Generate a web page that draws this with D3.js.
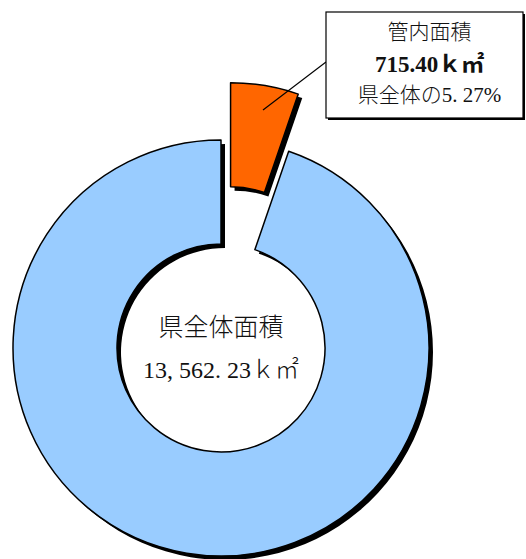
<!DOCTYPE html>
<html>
<head>
<meta charset="utf-8">
<script src="https://d3js.org/d3.v7.min.js"></script>
<style>
  body { margin: 0; background: #fff; }
  svg { display: block; }
  text { font-family: "Liberation Serif", "Noto Sans CJK JP", serif; fill: #111; font-weight: 300; }
</style>
</head>
<body>
<div id="chart"></div>
<script>
// データ（km²）
var categories = ["管内", "管内以外"];
var areas = [715.40, 12846.83];
var totalArea = 13562.23;
var colors = ["#ff6600", "#99ccff"];

var width = 526, height = 559;
var cx = 221, cy = 348;          // 円の中心
var rOuter = 208, rInner = 104;  // ドーナツの半径
var explode = 58;                // 管内スライスの切り出し量
var shadow = 4;                  // 影のずれ

var svg = d3.select("#chart").append("svg")
    .attr("width", width)
    .attr("height", height);

var pie = d3.pie().sort(null).value(function(d) { return d; });
var arc = d3.arc().innerRadius(rInner).outerRadius(rOuter);
var slices = pie(areas);

var g = svg.append("g").attr("transform", "translate(" + cx + "," + cy + ")");

function offset(d, i) {
  if (i !== 0) return [0, 0];
  var a = (d.startAngle + d.endAngle) / 2;
  return [Math.sin(a) * explode, -Math.cos(a) * explode];
}

// 影
g.selectAll("path.shadow")
  .data(slices)
  .enter().append("path")
  .attr("class", "shadow")
  .attr("d", arc)
  .attr("fill", "#000")
  .attr("transform", function(d, i) {
    var o = offset(d, i);
    return "translate(" + (o[0] + shadow) + "," + (o[1] + shadow) + ")";
  });

// スライス
g.selectAll("path.slice")
  .data(slices)
  .enter().append("path")
  .attr("class", "slice")
  .attr("d", arc)
  .attr("fill", function(d, i) { return colors[i]; })
  .attr("stroke", "#000")
  .attr("stroke-width", 1.5)
  .attr("stroke-linejoin", "round")
  .attr("transform", function(d, i) {
    var o = offset(d, i);
    return "translate(" + o[0] + "," + o[1] + ")";
  });

// 中央のラベル
var fmtTotal = d3.format(",.2f")(totalArea).replace(",", ", ").replace(".", ". ");
g.append("text")
  .attr("x", 0).attr("y", -12)
  .attr("text-anchor", "middle")
  .style("font-size", "25px")
  .text("県全体面積");
g.append("text")
  .attr("x", 0).attr("y", 30)
  .attr("text-anchor", "middle")
  .style("font-size", "24px")
  .text(fmtTotal + "ｋ㎡");

// 引き出し線
svg.append("line")
  .attr("x1", 263).attr("y1", 110)
  .attr("x2", 326).attr("y2", 62)
  .attr("stroke", "#000")
  .attr("stroke-width", 1.2);

// 吹き出し
var box = { x: 326, y: 12, w: 197, h: 106 };
svg.append("rect")
  .attr("x", box.x + 2).attr("y", box.y + 2)
  .attr("width", box.w).attr("height", box.h)
  .attr("fill", "#000");
svg.append("rect")
  .attr("x", box.x).attr("y", box.y)
  .attr("width", box.w).attr("height", box.h)
  .attr("fill", "#fff")
  .attr("stroke", "#000")
  .attr("stroke-width", 1.2);

var bx = box.x + box.w / 2 + 5;
svg.append("text")
  .attr("x", bx).attr("y", 39)
  .attr("text-anchor", "middle")
  .style("font-size", "21px")
  .text(categories[0] + "面積");
svg.append("text")
  .attr("x", bx).attr("y", 72)
  .attr("text-anchor", "middle")
  .style("font-size", "23px")
  .style("font-weight", "bold")
  .text(d3.format(".2f")(areas[0]) + "ｋ㎡");
var pct = d3.format(".2f")(areas[0] / totalArea * 100).replace(".", ". ");
svg.append("text")
  .attr("x", bx).attr("y", 102)
  .attr("text-anchor", "middle")
  .style("font-size", "21px")
  .text("県全体の" + pct + "%");
</script>
</body>
</html>
